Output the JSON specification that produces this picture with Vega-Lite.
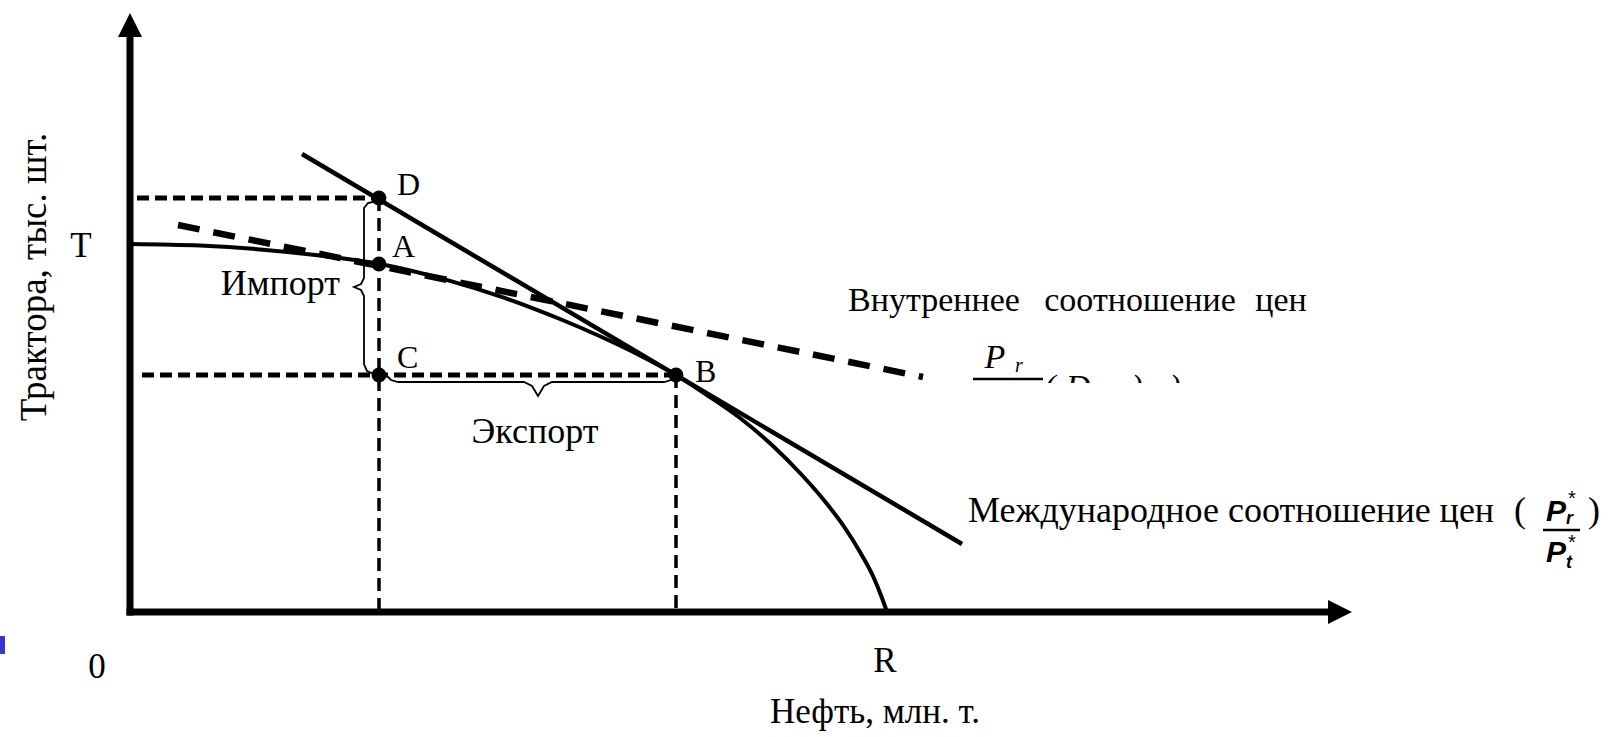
{
  "$schema": "https://vega.github.io/schema/vega-lite/v6.json",
  "width": 1609,
  "height": 737,
  "autosize": {"type": "none"},
  "padding": 0,
  "background": "white",
  "config": {"view": {"stroke": null}, "text": {"font": "Liberation Serif", "color": "black"}},
  "datasets": {
    "axes": [{"x": -0.35, "y": 0, "x2": 120, "y2": 0}, {"x": 0, "y": -0.35, "x2": 0, "y2": 57.7}],
    "arrowUp": [{"x": 0, "y": 58.7}],
    "arrowRight": [{"x": 121, "y": 0}],
    "hguides": [{"x": 0.7, "y": 41.4, "x2": 24.9, "y2": 41.4}, {"x": 1.2, "y": 23.7, "x2": 54.6, "y2": 23.7}],
    "vguides": [{"x": 24.9, "y": 41.4, "x2": 24.9, "y2": 0}, {"x": 54.6, "y": 23.7, "x2": 54.6, "y2": 0}],
    "ppf": [
      {"x": 0, "y": 36.8}, {"x": 7, "y": 36.64}, {"x": 13, "y": 36.26}, {"x": 19, "y": 35.64},
      {"x": 25, "y": 34.8}, {"x": 32, "y": 33.11}, {"x": 37, "y": 31.56}, {"x": 40.3, "y": 30.37},
      {"x": 43, "y": 29.3}, {"x": 47, "y": 27.57}, {"x": 51, "y": 25.65}, {"x": 54.6, "y": 23.7},
      {"x": 57.7, "y": 21.7}, {"x": 61, "y": 19.4}, {"x": 64.3, "y": 16.6}, {"x": 67, "y": 13.9},
      {"x": 69.3, "y": 11.3}, {"x": 71.5, "y": 8.4}, {"x": 73, "y": 6.0}, {"x": 74.3, "y": 3.6},
      {"x": 75.2, "y": 1.4}, {"x": 75.7, "y": 0}
    ],
    "intl": [{"x": 17.2, "y": 45.8, "x2": 83.2, "y2": 6.8}],
    "domestic": [{"x": 4.8, "y": 38.7, "x2": 79.3, "y2": 23.5}],
    "braces": [
      {"brace": "imp", "i": 1, "x": 24.7, "y": 41.1}, {"brace": "imp", "i": 2, "x": 23.8, "y": 40.9},
      {"brace": "imp", "i": 3, "x": 23.4, "y": 40.4}, {"brace": "imp", "i": 4, "x": 23.4, "y": 33.4},
      {"brace": "imp", "i": 5, "x": 23.1, "y": 32.8}, {"brace": "imp", "i": 6, "x": 22.4, "y": 32.5},
      {"brace": "imp", "i": 7, "x": 23.1, "y": 32.2}, {"brace": "imp", "i": 8, "x": 23.4, "y": 31.6},
      {"brace": "imp", "i": 9, "x": 23.4, "y": 24.8}, {"brace": "imp", "i": 10, "x": 23.7, "y": 24.1},
      {"brace": "imp", "i": 11, "x": 24.6, "y": 23.7},
      {"brace": "exp", "i": 1, "x": 25.7, "y": 23.6}, {"brace": "exp", "i": 2, "x": 26.1, "y": 23.2},
      {"brace": "exp", "i": 3, "x": 26.8, "y": 23.0}, {"brace": "exp", "i": 4, "x": 39.4, "y": 23.0},
      {"brace": "exp", "i": 5, "x": 40.2, "y": 22.6}, {"brace": "exp", "i": 6, "x": 40.8, "y": 21.6},
      {"brace": "exp", "i": 7, "x": 41.4, "y": 22.6}, {"brace": "exp", "i": 8, "x": 42.2, "y": 23.0},
      {"brace": "exp", "i": 9, "x": 53.4, "y": 23.0}, {"brace": "exp", "i": 10, "x": 54.1, "y": 23.2},
      {"brace": "exp", "i": 11, "x": 54.5, "y": 23.6}
    ],
    "points": [{"name": "D", "x": 24.9, "y": 41.4}, {"name": "A", "x": 24.9, "y": 34.8}, {"name": "C", "x": 24.9, "y": 23.7}, {"name": "B", "x": 54.6, "y": 23.7}],
    "pointLabels": [{"t": "D", "x": 26.7, "y": 41.7}, {"t": "A", "x": 26.2, "y": 35.5}, {"t": "C", "x": 26.7, "y": 24.4}, {"t": "B", "x": 56.5, "y": 23.0}],
    "axisLetters": [{"t": "T", "x": -4.9, "y": 35.5}, {"t": "0", "x": -3.3, "y": -6.6}, {"t": "R", "x": 75.5, "y": -6.0}],
    "xTitle": [{"t": "Нефть, млн. т.", "x": 74.5, "y": -11.1}],
    "yTitle": [{"t": "Трактора, тыс. шт.", "x": -8.4, "y": 33.5}],
    "centerLabels": [{"t": "Экспорт", "x": 40.5, "y": 16.9}, {"t": "(", "x": 139.0, "y": 9.0}, {"t": ")", "x": 146.4, "y": 9.0}],
    "rightLabels": [{"t": "Импорт", "x": 21.0, "y": 31.7}],
    "leftLabels": [{"t": "Международное соотношение цен", "x": 83.8, "y": 9.0}],
    "domesticWords": [{"t": "Внутреннее", "x": 80.4, "y": 30.1}, {"t": "соотношение", "x": 101.0, "y": 30.1}, {"t": "цен", "x": 115.1, "y": 30.1}],
    "italicBig": [{"t": "P", "x": 86.5, "y": 24.4}, {"t": "(", "x": 92.0, "y": 21.4}, {"t": "D", "x": 94.8, "y": 21.4}, {"t": ")", "x": 100.7, "y": 21.4}, {"t": ")", "x": 104.5, "y": 21.4}],
    "italicSub": [{"t": "r", "x": 88.5, "y": 24.0}],
    "fracBars": [{"x": 84.3, "y": 23.3, "x2": 91.3, "y2": 23.3}, {"x": 141.3, "y": 8.2, "x2": 145.0, "y2": 8.2}],
    "boldP": [{"t": "P", "x": 142.6, "y": 9.1}, {"t": "P", "x": 142.6, "y": 5.0}],
    "boldSub": [{"t": "r", "x": 143.6, "y": 8.8}, {"t": "t", "x": 143.6, "y": 4.4}],
    "stars": [{"t": "*", "x": 143.8, "y": 10.7}, {"t": "*", "x": 143.8, "y": 6.3}],
    "mask": [{"x": 91.0, "y": 22.9, "x2": 106.5, "y2": 20.7}],
    "blue": [{"x": -13.0, "y": -2.4, "x2": -12.5, "y2": -4.2}]
  },
  "encoding": {
    "x": {"field": "x", "type": "quantitative", "scale": {"domain": [-13, 147.9], "nice": false, "zero": false}, "axis": null},
    "y": {"field": "y", "type": "quantitative", "scale": {"domain": [-12.5, 61.2], "nice": false, "zero": false}, "axis": null}
  },
  "layer": [
    {"data": {"name": "axes"}, "mark": {"type": "rule", "strokeWidth": 7, "color": "black", "strokeCap": "butt"},
     "encoding": {"x2": {"field": "x2"}, "y2": {"field": "y2"}}},
    {"data": {"name": "arrowUp"}, "mark": {"type": "point", "shape": "M0,-1L1,1L-1,1Z", "size": 576, "filled": true, "color": "black", "opacity": 1}},
    {"data": {"name": "arrowRight"}, "mark": {"type": "point", "shape": "M1,0L-1,1L-1,-1Z", "size": 576, "filled": true, "color": "black", "opacity": 1}},
    {"data": {"name": "hguides"}, "mark": {"type": "rule", "strokeWidth": 5, "strokeDash": [12, 6], "color": "black"},
     "encoding": {"x2": {"field": "x2"}, "y2": {"field": "y2"}}},
    {"data": {"name": "vguides"}, "mark": {"type": "rule", "strokeWidth": 3.5, "strokeDash": [13, 7], "color": "black"},
     "encoding": {"x2": {"field": "x2"}, "y2": {"field": "y2"}}},
    {"data": {"name": "ppf"}, "mark": {"type": "line", "strokeWidth": 4, "color": "black", "interpolate": "monotone"}},
    {"data": {"name": "intl"}, "mark": {"type": "rule", "strokeWidth": 4.5, "color": "black"},
     "encoding": {"x2": {"field": "x2"}, "y2": {"field": "y2"}}},
    {"data": {"name": "domestic"}, "mark": {"type": "rule", "strokeWidth": 6.5, "strokeDash": [22, 14], "color": "black"},
     "encoding": {"x2": {"field": "x2"}, "y2": {"field": "y2"}}},
    {"data": {"name": "braces"}, "mark": {"type": "line", "strokeWidth": 1.8, "color": "black"},
     "encoding": {"detail": {"field": "brace"}, "order": {"field": "i", "type": "quantitative"}}},
    {"data": {"name": "points"}, "mark": {"type": "circle", "size": 220, "color": "black", "opacity": 1}},
    {"data": {"name": "pointLabels"}, "mark": {"type": "text", "fontSize": 32, "align": "left", "baseline": "alphabetic"},
     "encoding": {"text": {"field": "t"}}},
    {"data": {"name": "axisLetters"}, "mark": {"type": "text", "fontSize": 35, "align": "center", "baseline": "alphabetic"},
     "encoding": {"text": {"field": "t"}}},
    {"data": {"name": "xTitle"}, "mark": {"type": "text", "fontSize": 35, "align": "center", "baseline": "alphabetic"},
     "encoding": {"text": {"field": "t"}}},
    {"data": {"name": "yTitle"}, "mark": {"type": "text", "fontSize": 37, "align": "center", "baseline": "alphabetic", "angle": 270},
     "encoding": {"text": {"field": "t"}}},
    {"data": {"name": "centerLabels"}, "mark": {"type": "text", "fontSize": 36, "align": "center", "baseline": "alphabetic"},
     "encoding": {"text": {"field": "t"}}},
    {"data": {"name": "rightLabels"}, "mark": {"type": "text", "fontSize": 36, "align": "right", "baseline": "alphabetic"},
     "encoding": {"text": {"field": "t"}}},
    {"data": {"name": "leftLabels"}, "mark": {"type": "text", "fontSize": 36, "align": "left", "baseline": "alphabetic"},
     "encoding": {"text": {"field": "t"}}},
    {"data": {"name": "domesticWords"}, "mark": {"type": "text", "fontSize": 34, "align": "center", "baseline": "alphabetic"},
     "encoding": {"text": {"field": "t"}}},
    {"data": {"name": "italicBig"}, "mark": {"type": "text", "fontSize": 34, "fontStyle": "italic", "align": "center", "baseline": "alphabetic"},
     "encoding": {"text": {"field": "t"}}},
    {"data": {"name": "italicSub"}, "mark": {"type": "text", "fontSize": 20, "fontStyle": "italic", "align": "left", "baseline": "alphabetic"},
     "encoding": {"text": {"field": "t"}}},
    {"data": {"name": "mask"}, "mark": {"type": "rect", "color": "white", "opacity": 1},
     "encoding": {"x2": {"field": "x2"}, "y2": {"field": "y2"}}},
    {"data": {"name": "fracBars"}, "mark": {"type": "rule", "strokeWidth": 2.5, "color": "black"},
     "encoding": {"x2": {"field": "x2"}, "y2": {"field": "y2"}}},
    {"data": {"name": "boldP"}, "mark": {"type": "text", "font": "Liberation Sans", "fontSize": 30, "fontStyle": "italic", "fontWeight": "bold", "align": "center", "baseline": "alphabetic"},
     "encoding": {"text": {"field": "t"}}},
    {"data": {"name": "boldSub"}, "mark": {"type": "text", "font": "Liberation Sans", "fontSize": 18, "fontStyle": "italic", "fontWeight": "bold", "align": "left", "baseline": "alphabetic"},
     "encoding": {"text": {"field": "t"}}},
    {"data": {"name": "stars"}, "mark": {"type": "text", "font": "Liberation Sans", "fontSize": 20, "align": "left", "baseline": "alphabetic"},
     "encoding": {"text": {"field": "t"}}},
    {"data": {"name": "blue"}, "mark": {"type": "rect", "color": "#3636d0", "opacity": 1},
     "encoding": {"x2": {"field": "x2"}, "y2": {"field": "y2"}}}
  ]
}
